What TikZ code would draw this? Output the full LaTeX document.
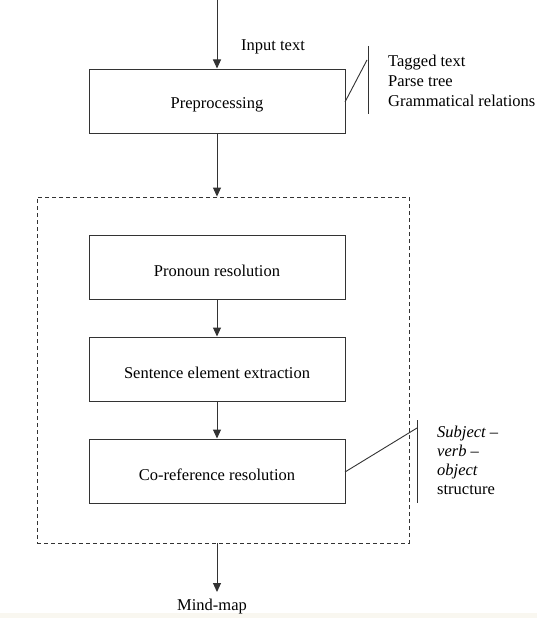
\documentclass[tikz,border=0pt]{standalone}
\usepackage{fontspec}
\setmainfont{Liberation Serif}
\usetikzlibrary{arrows.meta}
\definecolor{ln}{gray}{0.2}
\definecolor{strip}{RGB}{249,247,240}
\newcommand{\dn}[1]{\raisebox{-4pt}[\height][\depth]{#1}}
\begin{document}
\begin{tikzpicture}[x=1pt,y=-1pt,
  every node/.style={font=\fontsize{16.5}{20}\selectfont},
  stage/.style={draw=ln,line width=1pt,rectangle,minimum width=256pt,minimum height=64pt,inner sep=0pt},
  flow/.style={draw=ln,line width=1pt,-{Triangle[width=8pt,length=9pt]}},
  plain/.style={draw=ln,line width=0.9pt},
  lbl/.style={inner sep=0pt}]
\useasboundingbox (0,0) rectangle (537,618);
\fill[strip] (0,613) rectangle (537,618);
% boxes
\node[stage] (pre) at (217,101) {\dn{Preprocessing}};
\node[draw=ln,line width=0.9pt,dash pattern=on 4pt off 3pt,rectangle,minimum width=372pt,minimum height=346pt,inner sep=0pt] (grp) at (223,370) {};
\node[stage] (pron) at (217,267) {\dn{Pronoun resolution}};
\node[stage] (sent) at (217,369) {\dn{Sentence element extraction}};
\node[stage] (coref) at (217,471) {\dn{Co-reference resolution}};
% texts
\node[lbl] (inp) at (273,47) {Input text};
\node[lbl,anchor=west,align=left] (tags) at (388,81) {Tagged text\\Parse tree\\Grammatical relations};
\node[lbl,anchor=west,align=left,font=\fontsize{16.5}{19}\selectfont] (svo) at (437,460) {\textit{Subject –}\\\textit{verb –}\\\textit{object}\\structure};
\node[lbl] (mm) at (212,607) {Mind-map};
% coordinates
\coordinate (top) at (217,0);
\coordinate (bot) at (217,592);
\coordinate (b1t) at (368,46);
\coordinate (b1b) at (368,114);
\coordinate (b1j) at (367,60);
\coordinate (b1s) at (345,102);
\coordinate (b2t) at (417,420);
\coordinate (b2b) at (417,503);
\coordinate (b2j) at (417,428);
\coordinate (b2s) at (345,472);
% flow arrows
\draw[flow] (top) -- (pre.north);
\draw[flow] (pre.south) -- (pre.south |- grp.north);
\draw[flow] (pron.south) -- (sent.north);
\draw[flow] (sent.south) -- (coref.north);
\draw[flow] (pre.south |- grp.south) -- (bot);
% callouts
\draw[plain] (b1t) -- (b1b);
\draw[plain] (b1s) -- (b1j);
\draw[plain] (b2t) -- (b2b);
\draw[plain] (b2s) -- (b2j);
\end{tikzpicture}
\end{document}
